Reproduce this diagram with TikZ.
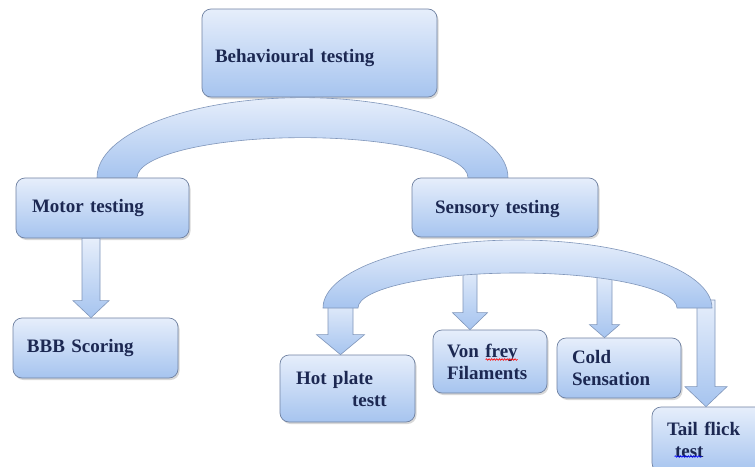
\documentclass[tikz,border=0pt]{standalone}
\usepackage{fontspec}
\setmainfont{Liberation Serif}
\usetikzlibrary{calc, shadows, decorations.pathmorphing}

\definecolor{boxtop}{RGB}{230,238,251}
\definecolor{boxbot}{RGB}{166,196,239}
\definecolor{boxline}{RGB}{112,130,162}
\definecolor{bandline}{RGB}{128,150,186}
\definecolor{txtnavy}{RGB}{28,40,82}

\tikzset{
  box/.style={draw=boxline, line width=0.7pt, rounded corners=9pt,
    top color=boxtop, bottom color=boxbot, inner xsep=0pt,
    drop shadow={opacity=0.3, shadow xshift=1.5pt, shadow yshift=-2pt},
    align=left, text=txtnavy, font=\fontsize{19}{22}\selectfont\bfseries},
  band/.style={draw=bandline, line width=0.6pt, top color=boxtop, bottom color=boxbot},
  spellwave/.style={line width=0.6pt, decorate, decoration={snake, amplitude=0.8pt, segment length=2.6pt}},
}

% #1 start coordinate, #2 target node, #3 shaft half width, #4 head half width, #5 head length
\newcommand\blockarrow[5]{%
  \coordinate (tip) at (#1 |- #2.north);
  \path[band] ($(#1)+(-#3,0)$) -- ($(tip)+(-#3,-#5)$) -- ($(tip)+(-#4,-#5)$) -- (tip)
    -- ($(tip)+(#4,-#5)$) -- ($(tip)+(#3,-#5)$) -- ($(#1)+(#3,0)$) -- cycle;}

\begin{document}
\begin{tikzpicture}[x=1pt, y=-1pt]
    \useasboundingbox (0,0) rectangle (755,466);
    \fill[white] (0,0) rectangle (755,466);

    \node[box, minimum width=235pt, minimum height=88pt, text width=209pt] (beh) at (319.5,53) {\raisebox{-5pt}[\height][\depth]{Behavioural testing}};
    \node[box, minimum width=173pt, minimum height=60pt, text width=141pt] (mot) at (102.5,208) {Motor testing};
    \node[box, minimum width=186pt, minimum height=59pt, text width=140pt] (sen) at (505,207.5) {\raisebox{-2pt}[\height][\depth]{Sensory testing}};
    \node[box, minimum width=165pt, minimum height=60pt, text width=137pt] (bbb) at (95.5,348) {BBB Scoring};
    \node[box, minimum width=135pt, minimum height=67pt, text width=103pt] (hot) at (347.5,388.5) {Hot plate\\\hspace*{56pt}testt};
    \node[box, minimum width=114pt, minimum height=63pt, text width=86pt] (von) at (490,361.5) {Von frey\\Filaments};
    \node[box, minimum width=124pt, minimum height=60pt, text width=94pt] (cold) at (619,368) {Cold\\Sensation};
    \node[box, minimum width=115pt, minimum height=65pt, text width=85pt] (tail) at (709.5,439.5) {Tail flick\\\hspace*{8pt}test};

    \draw[spellwave, red] ($(von.west)+(53,-2)$) -- ++(32,0);
    \draw[spellwave, blue] ($(tail.west)+(23,17)$) -- ++(27,0);

    \coordinate (m1) at (91,0 |- mot.south);
    \coordinate (h1) at (340.5,300);
    \coordinate (v1) at (470,265);
    \coordinate (c1) at (604.5,270);
    \coordinate (t1) at (706,300);

    \blockarrow{m1}{bbb}{9}{18}{17}
    \blockarrow{h1}{hot}{12.5}{24}{20}
    \blockarrow{v1}{von}{7}{17.5}{17}
    \blockarrow{c1}{cold}{7.5}{15}{13}
    \blockarrow{t1}{tail}{9}{21}{20}

    \path[band] (97,0 |- mot.north) arc[start angle=180, end angle=0, x radius=205.5pt, y radius=80pt]
        -- (468,0 |- sen.north) arc[start angle=0, end angle=180, x radius=165.5pt, y radius=40pt] -- cycle;
    \path[band] (323,308) arc[start angle=180, end angle=0, x radius=194.5pt, y radius=68pt]
        -- (677,308) arc[start angle=0, end angle=180, x radius=159.5pt, y radius=35pt] -- cycle;
\end{tikzpicture}
\end{document}
